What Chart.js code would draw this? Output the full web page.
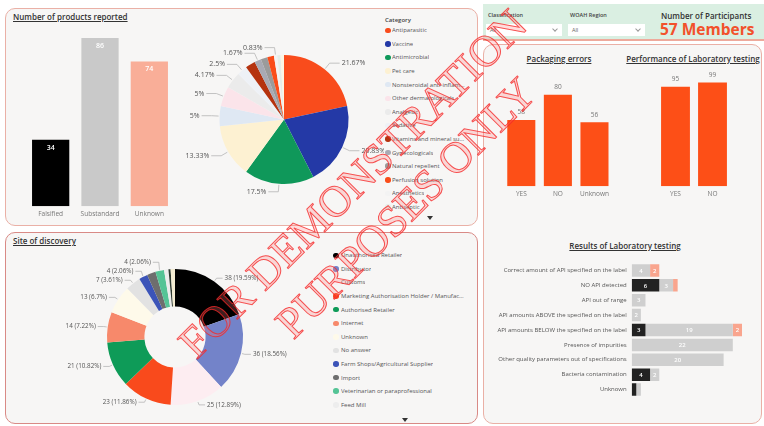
<!DOCTYPE html>
<html>
<head>
<meta charset="utf-8">
<script src="https://cdn.jsdelivr.net/npm/chart.js@4.4.1/dist/chart.umd.min.js"></script>
<style>
  body { margin:0; width:764px; height:426px; position:relative; overflow:hidden; background:#fff;
         font-family:'Open Sans','Segoe UI',sans-serif; color:#333; }
  .panel { position:absolute; background:#f7f6f5; border:1px solid #eab0a6; border-radius:10px; box-sizing:border-box; }
  .title { position:absolute; font-size:8px; line-height:10px; font-weight:600; color:#333; text-decoration:underline; white-space:nowrap; }
  .center { transform:translateX(-50%); }
  canvas { position:absolute; }
  .legend { position:absolute; overflow:hidden; font-size:6px; color:#555; }
  .legend .row { height:13.6px; display:flex; align-items:center; white-space:nowrap; }
  .legend .dot { width:5.5px; height:5.5px; border-radius:50%; flex:none; }
  .legend .txt { overflow:hidden; text-overflow:ellipsis; }
  .arrow { position:absolute; width:0; height:0; border-left:3px solid transparent; border-right:3px solid transparent; border-top:4px solid #333; }
  .lbl { position:absolute; white-space:nowrap; }
  .drop { position:absolute; background:#fff; height:12px; box-sizing:border-box; font-size:5.5px; color:#666; line-height:12px; padding-left:4px; }
  .drop i { position:absolute; right:5px; top:3px; width:3px; height:3px; border-right:1px solid #999; border-bottom:1px solid #999; transform:rotate(45deg); }
  .wm { position:absolute; font-family:'Liberation Serif','Times New Roman',serif; font-size:44px; line-height:44px; white-space:nowrap;
        color:rgba(255,120,120,0.25); -webkit-text-stroke:1px rgba(245,40,40,0.8);
        transform:translate(-50%,-50%) rotate(-45deg); pointer-events:none; }
</style>
</head>
<body>

<!-- panels -->
<div class="panel" style="left:5px;top:8px;width:473px;height:218px"></div>
<div class="panel" style="left:5px;top:232px;width:473px;height:192px;border-color:#d98a86"></div>
<div class="panel" style="left:483px;top:44px;width:279px;height:380px"></div>
<div style="position:absolute;left:483px;top:4px;width:281px;height:35px;background:#daefe2;border-bottom:2px solid #eeaa9c"></div>

<!-- header -->
<div class="lbl" style="left:488px;top:11px;font-size:5.5px;font-weight:600;color:#444">Classification</div>
<div class="drop" style="left:486px;top:24px;width:76px">All<i></i></div>
<div class="lbl" style="left:570px;top:11px;font-size:5.5px;font-weight:600;color:#444">WOAH Region</div>
<div class="drop" style="left:568px;top:24px;width:77px">All<i></i></div>
<div class="lbl" style="left:661px;top:10px;font-size:8px;font-weight:600;color:#333">Number of Participants</div>
<div class="lbl" style="left:660px;top:19px;font-size:15.5px;line-height:20px;font-weight:700;color:#f2512b">57 Members</div>

<!-- titles -->
<div class="title" style="left:13px;top:12px">Number of products reported</div>
<div class="title" style="left:13px;top:236px">Site of discovery</div>
<div class="title center" style="left:559px;top:54px">Packaging errors</div>
<div class="title center" style="left:693px;top:54px">Performance of Laboratory testing</div>
<div class="title center" style="left:625px;top:241px">Results of Laboratory testing</div>

<!-- charts -->
<canvas id="productsChart" width="148" height="184" style="left:26px;top:38px"></canvas>
<canvas id="categoryChart" width="200" height="209" style="left:184px;top:15px"></canvas>
<canvas id="siteChart" width="270" height="180" style="left:40px;top:247px"></canvas>
<canvas id="packagingChart" width="110" height="130" style="left:503px;top:72px"></canvas>
<canvas id="performanceChart" width="74" height="131" style="left:657px;top:71px"></canvas>
<canvas id="resultsChart" width="252" height="134" style="left:490px;top:263px"></canvas>

<!-- legends -->
<div class="lbl" style="left:385px;top:16px;font-size:6px;font-weight:600;color:#444">Category</div>
<div id="categoryLegend" class="legend" style="left:385px;top:23.5px;width:82px;height:190.4px"></div>
<div class="arrow" style="left:427px;top:216px"></div>
<div id="siteLegend" class="legend" style="left:333px;top:248.5px;width:132px;height:163.8px"></div>
<div class="arrow" style="left:402px;top:418px"></div>

<!-- watermark -->
<div class="wm" style="left:353px;top:184px">FOR DEMONSTRATION</div>
<div class="wm" style="left:406px;top:208px">PURPOSES ONLY</div>

<script>
// ---- data ----
const productTypes = ['Falsified', 'Substandard', 'Unknown'];
const productCounts = [34, 86, 74];
const productColors = ['#000000', '#c9c9c9', '#f9ae98'];

const categoryNames = ['Antiparasitic', 'Vaccine', 'Antimicrobial', 'Pet care', 'Nonsteroidal anti-inflammatory',
  'Other dermatologicals', 'Analgesic', 'Sedative', 'Vitamins and mineral supplements', 'Gynecologicals',
  'Natural repellent', 'Perfusion solution', 'Anesthetics', 'Antiseptic', 'Other'];
const categoryCounts = [26, 25, 21, 16, 6, 6, 5, 3, 3, 2, 2, 2, 1, 1, 1];
const categoryColors = ['#f94c1c', '#2439a6', '#0f985a', '#fdf1d2', '#dfe8f3', '#fbe4ea', '#ebebeb', '#eef1f6',
  '#b5330f', '#a9aab4', '#9b9b9b', '#fa4d1a', '#f3f3f3', '#e5eee8', '#fbf6e4'];

const siteNames = ['Unauthorised Retailer', 'Distributor', 'Customs', 'Marketing Authorisation Holder / Manufacturer',
  'Authorised Retailer', 'Internet', 'Unknown', 'No answer', 'Farm Shops/Agricultural Supplier', 'Import',
  'Veterinarian or paraprofessional', 'Feed Mill', 'Other', 'Not specified'];
const siteCounts = [38, 36, 25, 23, 21, 14, 13, 7, 4, 4, 4, 2, 1, 2];
const siteColors = ['#000000', '#7383c9', '#fdedf1', '#f94a1c', '#0e9b58', '#f7896b', '#fefaea', '#e2e2e2',
  '#3c54b8', '#6e6e6e', '#55c496', '#ededed', '#2f3a30', '#f4ecd2'];

const packagingLabels = ['YES', 'NO', 'Unknown'];
const packagingCounts = [58, 80, 56];
const performanceLabels = ['YES', 'NO'];
const performanceCounts = [95, 99];

const resultLabels = ['Correct amount of API specified on the label', 'NO API detected', 'API out of range',
  'API amounts ABOVE the specified on the label', 'API amounts BELOW the specified on the label',
  'Presence of impurities', 'Other quality parameters out of specifications', 'Bacteria contamination', 'Unknown'];
const resultFalsified = [0, 6, 0, 0, 3, 0, 0, 4, 1];
const resultSubstandard = [4, 3, 3, 2, 19, 22, 20, 2, 1];
const resultUnknown = [2, 1, 0, 0, 2, 0, 0, 0, 0];

// ---- defaults ----
Chart.defaults.font.family = "'Open Sans', 'Segoe UI', sans-serif";
Chart.defaults.color = '#666';
Chart.defaults.animation = false;
Chart.defaults.responsive = false;
Chart.defaults.plugins.legend.display = false;
Chart.defaults.plugins.tooltip.enabled = false;

// value labels on bars
const barValues = {
  id: 'barValues',
  afterDatasetsDraw(chart, args, o) {
    const ctx = chart.ctx;
    ctx.save();
    ctx.font = o.font;
    ctx.fillStyle = o.color;
    ctx.textAlign = 'center';
    ctx.textBaseline = 'middle';
    chart.data.datasets.forEach((ds, di) => {
      chart.getDatasetMeta(di).data.forEach((bar, i) => {
        const v = ds.data[i];
        if (!v) return;
        const p = bar.getProps(['x', 'y', 'base'], true);
        if (o.mode === 'inside') ctx.fillText(v, p.x, p.y + o.offset);
        else if (o.mode === 'above') ctx.fillText(v, p.x, p.y - o.offset);
        else if (Math.abs(p.x - p.base) >= o.minSize) ctx.fillText(v, (p.x + p.base) / 2, p.y + 0.5);
      });
    });
    ctx.restore();
  }
};

// labels with leader lines outside pie / doughnut, skipping collisions
const outsideLabels = {
  id: 'outsideLabels',
  afterDatasetsDraw(chart, args, o) {
    const ctx = chart.ctx;
    const data = chart.data.datasets[0].data;
    const total = data.reduce((a, b) => a + b, 0);
    const placed = [];
    const h = 9;
    ctx.save();
    ctx.font = o.font;
    ctx.textBaseline = 'middle';
    chart.getDatasetMeta(0).data.forEach((arc, i) => {
      const p = arc.getProps(['x', 'y', 'startAngle', 'endAngle', 'outerRadius'], true);
      const mid = (p.startAngle + p.endAngle) / 2;
      const cos = Math.cos(mid), sin = Math.sin(mid);
      const right = cos >= 0;
      const text = o.format(data[i], total);
      const w = ctx.measureText(text).width;
      const ex = p.x + cos * (p.outerRadius + o.elbow);
      let ey = p.y + sin * (p.outerRadius + o.elbow);
      const tx = right ? ex + o.tail + 2 : ex - o.tail - 2 - w;
      const hits = y => placed.filter(b => b.l < tx + w && tx < b.r && b.t < y + h / 2 && y - h / 2 < b.b);
      let blockers = hits(ey);
      if (blockers.length) {
        if (!o.maxShift) return;
        const target = sin < 0 ? Math.min(...blockers.map(b => b.t)) - h / 2 : Math.max(...blockers.map(b => b.b)) + h / 2;
        if (Math.abs(target - ey) > o.maxShift || hits(target).length) return;
        ey = target;
      }
      placed.push({ l: tx, r: tx + w, t: ey - h / 2, b: ey + h / 2 });
      ctx.strokeStyle = o.lineColor;
      ctx.lineWidth = 0.8;
      ctx.beginPath();
      ctx.moveTo(p.x + cos * (p.outerRadius + 1), p.y + sin * (p.outerRadius + 1));
      ctx.lineTo(ex, ey);
      ctx.lineTo(right ? ex + o.tail : ex - o.tail, ey);
      ctx.stroke();
      ctx.fillStyle = o.color;
      ctx.fillText(text, tx, ey);
    });
    ctx.restore();
  }
};

const pct = (v, total) => String(Number((v / total * 100).toFixed(2)));

const columnScales = (max, fontSize) => ({
  x: { grid: { display: false, drawTicks: false }, border: { display: false },
       ticks: { color: '#777', font: { size: fontSize }, padding: 4 } },
  y: { display: false, min: 0, max: max }
});

// Number of products reported
new Chart(document.getElementById('productsChart'), {
  type: 'bar',
  data: { labels: productTypes, datasets: [{ data: productCounts, backgroundColor: productColors,
    categoryPercentage: 1, barPercentage: 0.755 }] },
  options: { layout: { padding: 0 }, scales: columnScales(86, 6.5),
    plugins: { barValues: { mode: 'inside', offset: 8, color: '#fff', font: "600 7px 'Open Sans'" } } },
  plugins: [barValues]
});

// Category pie
new Chart(document.getElementById('categoryChart'), {
  type: 'pie',
  data: { labels: categoryNames, datasets: [{ data: categoryCounts, backgroundColor: categoryColors, borderWidth: 0 }] },
  options: { radius: 64.5, layout: { padding: 0 },
    plugins: { outsideLabels: { font: "7px 'Open Sans'", color: '#555', lineColor: '#b5b5b5',
      elbow: 8, tail: 10, maxShift: 0, format: (v, t) => pct(v, t) + '%' } } },
  plugins: [outsideLabels]
});

// Site of discovery doughnut
new Chart(document.getElementById('siteChart'), {
  type: 'doughnut',
  data: { labels: siteNames, datasets: [{ data: siteCounts, backgroundColor: siteColors, borderWidth: 0 }] },
  options: { radius: 68, cutout: '45%', layout: { padding: 0 },
    plugins: { outsideLabels: { font: "6.3px 'Open Sans'", color: '#555', lineColor: '#b5b5b5',
      elbow: 4, tail: 6, maxShift: 6, format: (v, t) => v + ' (' + pct(v, t) + '%)' } } },
  plugins: [outsideLabels]
});

// Packaging errors
new Chart(document.getElementById('packagingChart'), {
  type: 'bar',
  data: { labels: packagingLabels, datasets: [{ data: packagingCounts, backgroundColor: '#fd4f17',
    categoryPercentage: 1, barPercentage: 0.767 }] },
  options: { layout: { padding: 0 }, scales: columnScales(100, 6.5),
    plugins: { barValues: { mode: 'above', offset: 7.5, color: '#777', font: "6.5px 'Open Sans'" } } },
  plugins: [barValues]
});

// Performance of laboratory testing
new Chart(document.getElementById('performanceChart'), {
  type: 'bar',
  data: { labels: performanceLabels, datasets: [{ data: performanceCounts, backgroundColor: '#fd4f17',
    categoryPercentage: 1, barPercentage: 0.78 }] },
  options: { layout: { padding: 0 }, scales: columnScales(110, 6.5),
    plugins: { barValues: { mode: 'above', offset: 7.5, color: '#777', font: "6.5px 'Open Sans'" } } },
  plugins: [barValues]
});

// Results of laboratory testing
new Chart(document.getElementById('resultsChart'), {
  type: 'bar',
  data: { labels: resultLabels, datasets: [
    { label: 'Falsified', data: resultFalsified, backgroundColor: '#222222' },
    { label: 'Substandard', data: resultSubstandard, backgroundColor: '#cfcfcf' },
    { label: 'Unknown', data: resultUnknown, backgroundColor: '#f9a58e' }
  ].map(d => Object.assign(d, { categoryPercentage: 1, barPercentage: 0.84 })) },
  options: { indexAxis: 'y', layout: { padding: 0 },
    scales: {
      x: { display: false, stacked: true, min: 0, max: 24 },
      y: { stacked: true, grid: { display: false, drawTicks: false }, border: { display: false },
           ticks: { color: '#555', font: { size: 6 }, padding: 5 },
           afterFit(s) { s.width = 141.7; s.paddingTop = 0; s.paddingBottom = 0; } }
    },
    plugins: { barValues: { mode: 'center', minSize: 7, color: '#fff', font: "600 6px 'Open Sans'" } } },
  plugins: [barValues]
});

// html legends
function buildLegend(id, names, colors, textGap) {
  const box = document.getElementById(id);
  names.forEach((n, i) => {
    const row = document.createElement('div');
    row.className = 'row';
    const dot = document.createElement('span');
    dot.className = 'dot';
    dot.style.background = colors[i];
    dot.style.marginRight = textGap + 'px';
    const txt = document.createElement('span');
    txt.className = 'txt';
    txt.textContent = n;
    row.appendChild(dot);
    row.appendChild(txt);
    box.appendChild(row);
  });
}
buildLegend('categoryLegend', categoryNames, categoryColors, 1.5);
buildLegend('siteLegend', siteNames, siteColors, 2.5);
</script>
</body>
</html>
